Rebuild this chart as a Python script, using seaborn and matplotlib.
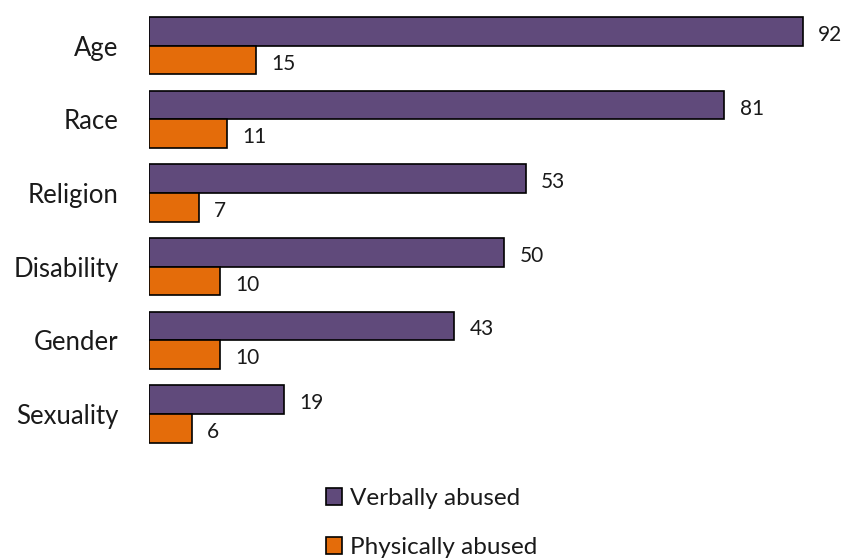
import matplotlib
matplotlib.use("Agg")
import matplotlib.pyplot as plt
import seaborn as sns
import pandas as pd
from matplotlib.patches import Patch

categories = ["Age", "Race", "Religion", "Disability", "Gender", "Sexuality"]
verbally = [92, 81, 53, 50, 43, 19]
physically = [15, 11, 7, 10, 10, 6]
series = ["Verbally abused", "Physically abused"]
colors = ["#604A7B", "#E46C0A"]

df = pd.DataFrame({
    "category": categories * 2,
    "value": verbally + physically,
    "series": [series[0]] * len(categories) + [series[1]] * len(categories),
})

sns.set_style("white")
plt.rcParams["font.family"] = ["Lato", "DejaVu Sans"]

fig = plt.figure(figsize=(8.47, 5.6), dpi=100)
ax = fig.add_axes([149 / 847, 0.195, 682 / 847, 0.789])

sns.barplot(data=df, y="category", x="value", hue="series", orient="h",
            palette=colors, saturation=1, edgecolor="black", linewidth=1.2, width=0.78,
            order=categories, hue_order=series, ax=ax, legend=False)

ax.set_xlim(0, 96)
ax.set_ylim(5.5, -0.5)
for c in ax.containers:
    texts = ax.bar_label(c, padding=11, fontsize=15, color="#1a1a1a")
    for t in texts:
        t.xyann = (11, -2.5)

ax.set_xlabel("")
ax.set_ylabel("")
ax.set_xticks([])
ax.tick_params(axis="y", length=0, labelsize=18.5, pad=22, labelcolor="#1a1a1a")
for s in ax.spines.values():
    s.set_visible(False)

handles = [Patch(facecolor=colors[i], edgecolor="black", linewidth=1.2, label=series[i])
           for i in range(2)]
fig.legend(handles=handles, loc="center", bbox_to_anchor=(0.51, 0.066), ncol=1,
           frameon=False, fontsize=17.5, labelspacing=1.15, handlelength=0.65,
           handleheight=0.65, handletextpad=0.35, labelcolor="#1a1a1a")

fig.savefig("out.png", dpi=100)
